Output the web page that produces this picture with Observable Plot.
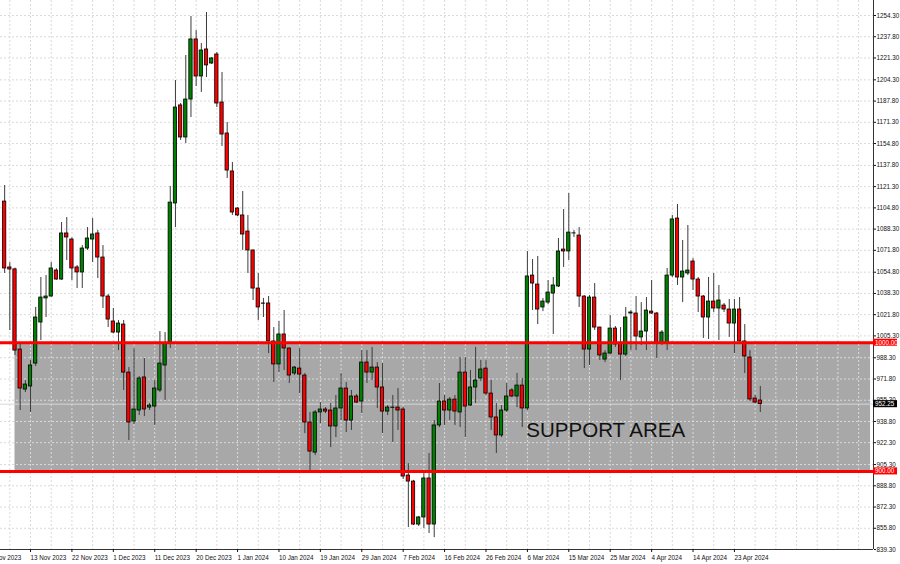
<!DOCTYPE html>
<html>
<head>
<meta charset="utf-8">
<script src="https://cdn.jsdelivr.net/npm/d3@7"></script>
<script src="https://cdn.jsdelivr.net/npm/@observablehq/plot@0.6"></script>
<style>
  html, body { margin: 0; padding: 0; background: #fff; }
  #chart svg { display: block; }
</style>
</head>
<body>
<div id="chart"></div>
<script>
// Daily candles (bar index 0 .. 146), prices
const opens = [1109.7,1058.5,1057.0,994.7,963.6,966.0,983.8,1015.7,1034.4,1035.9,1056.1,1049.1,1084.9,1080.2,1058.5,1054.6,1073.2,1080.2,1084.9,1066.2,1035.9,1016.5,1007.9,1014.1,976.8,938.8,947.3,973.0,949.6,950.4,962.9,982.3,1000.2,1108.2,1184.4,1159.5,1189.0,1235.7,1206.9,1227.9,1217.0,1224.0,1186.7,1162.6,1133.1,1104.3,1098.9,1086.4,1071.7,1042.1,1030.5,1030.5,1001.0,983.1,1006.4,995.5,976.1,979.9,974.5,938.0,914.6,945.8,948.1,947.3,934.9,948.9,964.4,939.5,958.2,954.3,984.6,976.8,980.7,965.2,946.5,949.6,949.6,948.1,896.8,892.1,858.7,864.2,894.5,858.7,935.7,954.3,947.3,955.8,945.8,976.8,951.2,965.2,972.2,979.9,960.5,941.9,927.9,947.3,962.9,958.2,966.7,948.9,1052.2,1045.2,1027.4,1031.2,1038.2,1043.7,1072.4,1070.9,1084.9,1083.3,1035.9,994.7,1035.1,1011.8,986.9,991.6,1011.0,999.4,990.8,1022.7,1022.7,1004.1,1008.7,1024.2,1022.7,999.4,999.4,1052.2,1096.5,1050.7,1053.8,1063.1,1049.1,1035.9,1019.6,1032.0,1026.6,1028.9,1025.8,1014.9,1025.8,1001.0,988.5,956.6,955.1];
const highs = [1122.2,1062.3,1058.0,999.4,970.6,986.2,1027.4,1050.7,1052.2,1062.3,1057.5,1093.4,1097.3,1081.5,1060.0,1075.5,1089.5,1096.5,1087.2,1075.5,1037.5,1026.6,1017.3,1017.3,980.7,995.5,973.7,987.7,952.7,970.6,1008.7,1007.9,1121.4,1203.8,1185.9,1223.2,1253.5,1242.6,1232.5,1256.6,1221.7,1225.5,1210.0,1171.1,1140.1,1105.0,1117.5,1098.9,1072.0,1053.8,1034.4,1035.9,1011.8,1016.5,1025.0,996.0,981.5,995.5,976.1,945.8,947.3,953.5,949.6,952.7,959.0,976.1,969.1,962.9,959.7,993.9,993.9,996.3,984.6,983.8,951.2,959.0,964.4,949.6,906.0,893.0,865.0,898.3,913.9,939.5,968.3,959.0,957.4,959.0,988.5,988.5,978.4,996.3,986.2,986.2,970.6,952.7,951.2,968.3,964.4,976.1,972.2,1070.9,1064.7,1067.0,1034.4,1048.3,1050.7,1081.0,1103.5,1116.0,1087.2,1089.5,1036.5,1036.7,1046.0,1012.0,993.9,1021.1,1012.6,1011.8,1027.4,1025.0,1035.9,1031.2,1035.1,1048.3,1023.5,1009.5,1057.7,1098.9,1107.4,1079.4,1091.1,1065.4,1050.7,1036.7,1050.7,1053.8,1044.5,1030.5,1033.6,1033.6,1035.1,1014.1,993.9,959.0,966.0];
const lows = [1053.8,1009.5,990.1,947.3,961.3,945.8,981.5,1001.7,1019.6,1035.5,1048.5,1048.5,1063.9,1048.3,1042.1,1042.1,1071.7,1062.3,1049.9,1026.6,1011.8,1007.0,993.9,962.9,924.0,936.4,943.4,942.6,947.3,935.7,961.3,955.1,995.5,1089.5,1157.2,1154.8,1175.0,1199.1,1194.5,1206.1,1216.2,1182.8,1152.5,1127.6,1098.9,1098.1,1071.7,1053.8,1032.8,1017.3,1019.6,991.6,969.1,976.8,978.4,968.3,974.5,960.5,929.4,900.7,912.3,937.2,944.9,918.5,926.3,939.5,930.2,931.8,952.7,945.0,968.3,970.6,948.9,929.4,943.4,922.4,931.8,893.7,856.4,857.9,857.2,855.6,851.7,848.5,934.0,935.7,939.5,935.7,934.1,926.3,950.5,952.7,969.8,959.0,931.8,913.9,926.3,945.8,957.4,949.6,934.1,947.3,1025.0,1014.1,1024.2,1029.7,1006.4,1042.9,1058.5,1063.9,1081.8,1027.4,979.9,982.3,1009.5,986.2,984.6,990.8,996.3,970.6,989.3,993.9,993.9,997.8,993.9,1022.0,987.7,997.8,993.9,1050.7,1044.5,1031.2,1052.2,1040.6,1023.5,1003.3,1002.5,1023.5,1001.7,1023.5,1004.1,991.6,999.4,976.1,954.3,952.7,945.8];
const closes = [1057.7,1056.9,993.9,964.4,967.5,982.3,1019.6,1035.1,1035.9,1057.7,1049.1,1084.9,1081.8,1057.7,1054.6,1073.2,1081.0,1084.1,1066.2,1035.9,1018.0,1007.9,1014.9,976.8,938.0,948.1,972.2,948.1,951.2,964.4,983.8,999.4,1108.9,1182.8,1159.5,1189.0,1235.7,1206.9,1227.1,1215.5,1220.9,1185.9,1161.8,1133.8,1101.2,1098.9,1084.1,1071.7,1042.1,1027.4,1030.3,1001.0,983.1,1006.4,995.5,974.5,980.7,975.3,938.0,915.4,945.8,948.1,946.5,934.9,948.9,964.4,939.5,958.2,953.5,984.6,976.8,980.7,965.2,946.5,949.6,949.4,947.3,896.0,892.1,858.7,864.2,894.5,858.7,935.7,954.3,947.3,955.8,946.5,976.8,950.4,965.2,970.6,979.2,960.5,941.9,927.9,947.3,958.2,958.2,966.7,948.9,1051.5,1046.0,1025.8,1032.0,1039.0,1044.5,1070.9,1070.9,1085.6,1085.0,1035.9,994.7,1035.1,1011.8,990.1,991.6,1011.0,998.6,990.8,1019.6,1023.5,1004.8,1008.7,1025.0,1022.7,999.4,1007.9,1052.2,1095.8,1050.7,1055.3,1056.1,1049.1,1035.9,1019.6,1032.0,1026.6,1032.8,1025.8,1014.9,1025.8,1001.0,989.3,955.9,953.5,952.25];

// Axis ticks
const yTicks = [1254.30,1237.80,1221.30,1204.30,1187.80,1171.30,1154.80,1137.80,1121.30,1104.80,1088.30,1071.80,1054.80,1038.30,1021.80,1005.30,988.30,971.80,955.30,938.80,922.30,905.30,888.80,872.30,855.80,839.30];
const dateTickIndex = [-3,5,13,21,29,37,45,53,61,69,77,85,93,101,109,117,125,133,141];
const dateTickLabels = ["3 Nov 2023","13 Nov 2023","22 Nov 2023","1 Dec 2023","11 Dec 2023","20 Dec 2023","1 Jan 2024","10 Jan 2024","19 Jan 2024","29 Jan 2024","7 Feb 2024","16 Feb 2024","26 Feb 2024","6 Mar 2024","15 Mar 2024","25 Mar 2024","4 Apr 2024","14 Apr 2024","23 Apr 2024"];

// Support zone and horizontal levels
const supportZone = [{from: 2, to: 167.3, low: 900, high: 1000}];
const levels = [1000, 900];
const levelLabels = ["1000.00", "900.00"];
const lastPrice = 952.25;
const zoneLabel = [{text: "SUPPORT AREA", at: 100.8, price: 926.5}];

// View window
const xDomain = [-0.8, 167.87];
const yDomain = [839.3, 1265.96];
const barsPerGrid = 4;

const candles = opens.map((o, i) => ({i, open: o, high: highs[i], low: lows[i], close: closes[i]}));
const up = candles.filter(d => d.close >= d.open);
const down = candles.filter(d => d.close < d.open);
const gridX = d3.range(-3, xDomain[1], barsPerGrid);

const boxW = 4.64;   // label box width, in bars
const boxH = 2.75;   // half label box height, in price units
const tags = levels.map((v, k) => ({v, label: levelLabels[k], fill: "#ff0000"}))
  .concat([{v: lastPrice, label: lastPrice.toFixed(2), fill: "#000000"}]);

const font = "'Liberation Sans', Arial, sans-serif";

const chart = Plot.plot({
  width: 900,
  height: 564,
  marginLeft: 0,
  marginRight: 27,
  marginTop: 0,
  marginBottom: 15,
  x: {domain: xDomain, axis: null},
  y: {domain: yDomain, axis: null},
  style: {background: "#ffffff", fontFamily: font, overflow: "visible"},
  marks: [
    Plot.rect(supportZone, {x1: "from", x2: "to", y1: "low", y2: "high", fill: "#a8a8a8"}),
    Plot.ruleX(gridX, {stroke: "#dadada", strokeDasharray: "2,2", strokeWidth: 1}),
    Plot.ruleY(yTicks, {stroke: "#dadada", strokeDasharray: "2,2", strokeWidth: 1}),
    Plot.ruleY([lastPrice], {stroke: "#d8d8d8", strokeWidth: 1}),
    Plot.ruleX(candles, {x: "i", y1: "low", y2: "high", stroke: "#3c3c3c", strokeWidth: 1}),
    Plot.rect(up, {x1: d => d.i - 0.32, x2: d => d.i + 0.32, y1: "open", y2: "close", fill: "#008000", stroke: "#000", strokeWidth: 0.8}),
    Plot.rect(down, {x1: d => d.i - 0.32, x2: d => d.i + 0.32, y1: "open", y2: "close", fill: "#ff0000", stroke: "#000", strokeWidth: 0.8}),
    Plot.ruleY(levels, {stroke: "#ff0000", strokeWidth: 3}),
    Plot.text(zoneLabel, {x: "at", y: "price", text: "text", textAnchor: "start", lineAnchor: "bottom", fontSize: 20.5, fill: "#111"}),
    Plot.ruleX([xDomain[1]], {stroke: "#333", strokeWidth: 1}),
    Plot.ruleY([yDomain[0]], {stroke: "#333", strokeWidth: 1}),
    Plot.axisY({anchor: "right", ticks: yTicks, tickFormat: d => d.toFixed(2), tickSize: 2, tickPadding: 1, fontSize: 6.3, color: "#111"}),
    Plot.axisX({ticks: dateTickIndex, tickFormat: d => dateTickLabels[dateTickIndex.indexOf(d)], textAnchor: "start", tickSize: 3, tickPadding: 3, fontSize: 6.3, color: "#111"}),
    Plot.rect(tags, {x1: xDomain[1], x2: xDomain[1] + boxW, y1: d => d.v - boxH, y2: d => d.v + boxH, fill: d => d.fill}),
    Plot.text(tags, {x: xDomain[1], y: "v", text: "label", textAnchor: "start", dx: 1.5, fontSize: 6.3, fill: "#fff"})
  ]
});
document.getElementById("chart").appendChild(chart);
</script>
</body>
</html>
